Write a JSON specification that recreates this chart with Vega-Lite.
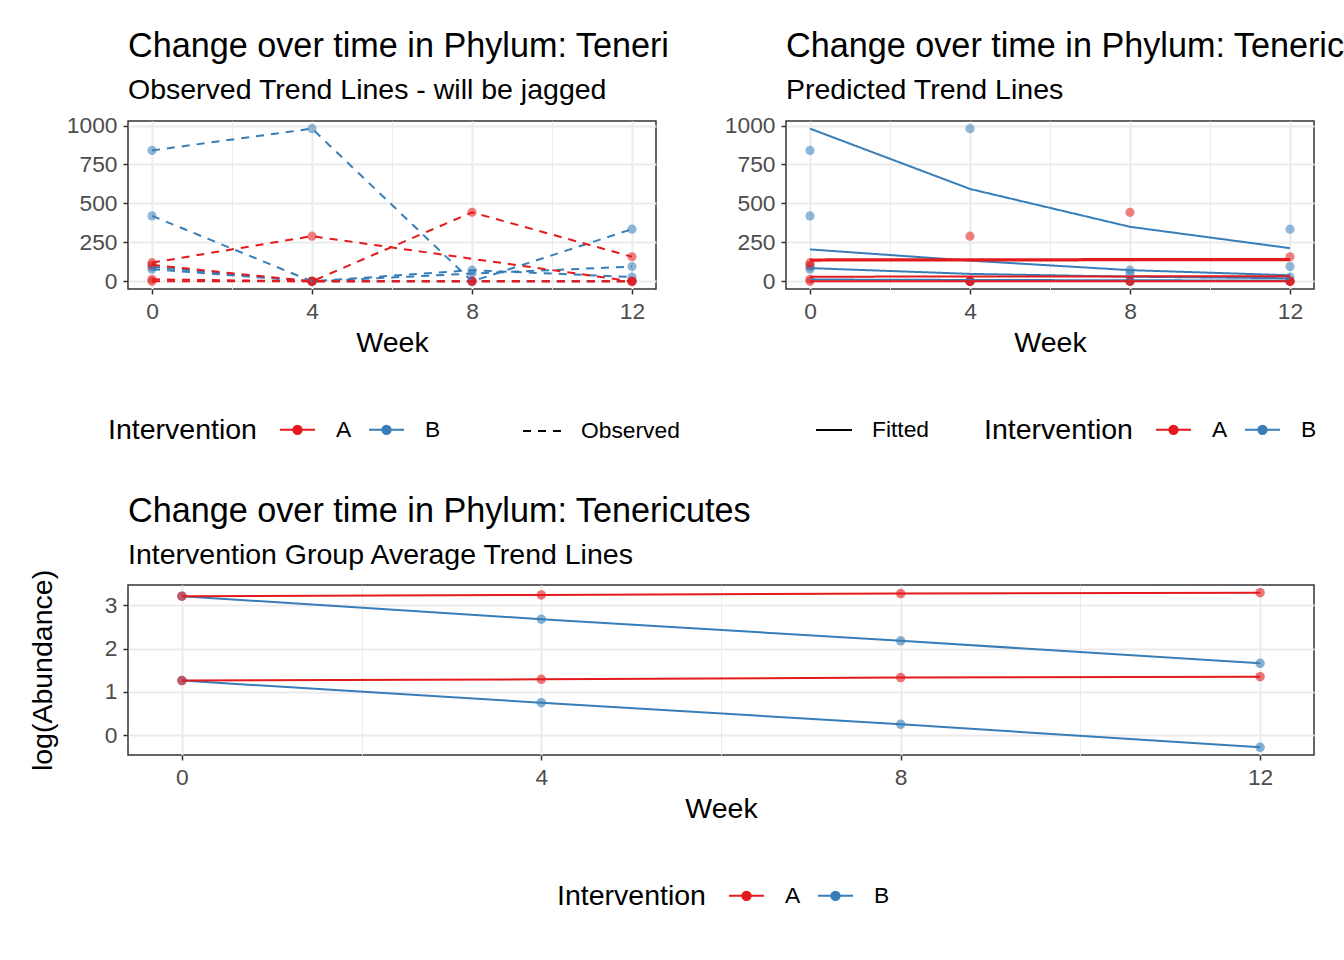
{
  "$schema": "https://vega.github.io/schema/vega-lite/v6.json",
  "padding": {"left": 27, "top": 29, "right": 0, "bottom": 0},
  "background": "white",
  "config": {
    "font": "Liberation Sans",
    "view": {"stroke": "#333333", "strokeWidth": 1.5},
    "axis": {
      "labelFontSize": 22.8, "labelColor": "#4d4d4d", "titleFontSize": 28.5, "titleColor": "black",
      "titleFontWeight": "normal", "tickColor": "#333333", "tickSize": 5, "tickWidth": 1.5,
      "domain": false, "gridColor": "#ebebeb", "labelPadding": 6, "titlePadding": 6
    },
    "title": {"fontSize": 34.2, "fontWeight": "normal", "subtitleFontSize": 28.5, "anchor": "start", "frame": "group", "color": "black", "subtitleColor": "black", "offset": 10, "subtitlePadding": 12},
    "legend": {"titleFontSize": 28.5, "labelFontSize": 22.8, "titleFontWeight": "normal", "titleColor": "black", "labelColor": "black"}
  },
  "datasets": {
    "obs": [
      {"Subject": "B1", "Intervention": "B", "Week": 0, "Abundance": 840},
      {"Subject": "B1", "Intervention": "B", "Week": 4, "Abundance": 980},
      {"Subject": "B1", "Intervention": "B", "Week": 8, "Abundance": 0},
      {"Subject": "B1", "Intervention": "B", "Week": 12, "Abundance": 335},
      {"Subject": "B2", "Intervention": "B", "Week": 0, "Abundance": 420},
      {"Subject": "B2", "Intervention": "B", "Week": 4, "Abundance": 0},
      {"Subject": "B2", "Intervention": "B", "Week": 8, "Abundance": 72},
      {"Subject": "B2", "Intervention": "B", "Week": 12, "Abundance": 28},
      {"Subject": "B3", "Intervention": "B", "Week": 0, "Abundance": 93},
      {"Subject": "B3", "Intervention": "B", "Week": 4, "Abundance": 0},
      {"Subject": "B3", "Intervention": "B", "Week": 8, "Abundance": 50},
      {"Subject": "B3", "Intervention": "B", "Week": 12, "Abundance": 95},
      {"Subject": "B4", "Intervention": "B", "Week": 0, "Abundance": 78},
      {"Subject": "B4", "Intervention": "B", "Week": 4, "Abundance": 0},
      {"Subject": "B4", "Intervention": "B", "Week": 8, "Abundance": 0},
      {"Subject": "B4", "Intervention": "B", "Week": 12, "Abundance": 0},
      {"Subject": "A1", "Intervention": "A", "Week": 0, "Abundance": 120},
      {"Subject": "A1", "Intervention": "A", "Week": 4, "Abundance": 290},
      {"Subject": "A1", "Intervention": "A", "Week": 12, "Abundance": 0},
      {"Subject": "A2", "Intervention": "A", "Week": 0, "Abundance": 105},
      {"Subject": "A2", "Intervention": "A", "Week": 4, "Abundance": 0},
      {"Subject": "A2", "Intervention": "A", "Week": 8, "Abundance": 443},
      {"Subject": "A2", "Intervention": "A", "Week": 12, "Abundance": 158},
      {"Subject": "A3", "Intervention": "A", "Week": 0, "Abundance": 13},
      {"Subject": "A3", "Intervention": "A", "Week": 4, "Abundance": 0},
      {"Subject": "A3", "Intervention": "A", "Week": 8, "Abundance": 0},
      {"Subject": "A3", "Intervention": "A", "Week": 12, "Abundance": 0},
      {"Subject": "A4", "Intervention": "A", "Week": 0, "Abundance": 0},
      {"Subject": "A4", "Intervention": "A", "Week": 4, "Abundance": 0},
      {"Subject": "A4", "Intervention": "A", "Week": 8, "Abundance": 0},
      {"Subject": "A4", "Intervention": "A", "Week": 12, "Abundance": 0}
    ],
    "fit": [
      {"Subject": "B1", "Intervention": "B", "Week": 0, "Fitted": 980},
      {"Subject": "B1", "Intervention": "B", "Week": 4, "Fitted": 593},
      {"Subject": "B1", "Intervention": "B", "Week": 8, "Fitted": 350},
      {"Subject": "B1", "Intervention": "B", "Week": 12, "Fitted": 213},
      {"Subject": "B2", "Intervention": "B", "Week": 0, "Fitted": 205},
      {"Subject": "B2", "Intervention": "B", "Week": 4, "Fitted": 133},
      {"Subject": "B2", "Intervention": "B", "Week": 8, "Fitted": 72},
      {"Subject": "B2", "Intervention": "B", "Week": 12, "Fitted": 39},
      {"Subject": "B3", "Intervention": "B", "Week": 0, "Fitted": 85},
      {"Subject": "B3", "Intervention": "B", "Week": 4, "Fitted": 48},
      {"Subject": "B3", "Intervention": "B", "Week": 8, "Fitted": 30},
      {"Subject": "B3", "Intervention": "B", "Week": 12, "Fitted": 20},
      {"Subject": "B4", "Intervention": "B", "Week": 0, "Fitted": 12},
      {"Subject": "B4", "Intervention": "B", "Week": 4, "Fitted": 9},
      {"Subject": "B4", "Intervention": "B", "Week": 8, "Fitted": 7},
      {"Subject": "B4", "Intervention": "B", "Week": 12, "Fitted": 5},
      {"Subject": "A1", "Intervention": "A", "Week": 0, "Fitted": 133},
      {"Subject": "A1", "Intervention": "A", "Week": 4, "Fitted": 134},
      {"Subject": "A1", "Intervention": "A", "Week": 8, "Fitted": 135},
      {"Subject": "A1", "Intervention": "A", "Week": 12, "Fitted": 136},
      {"Subject": "A2", "Intervention": "A", "Week": 0, "Fitted": 141},
      {"Subject": "A2", "Intervention": "A", "Week": 4, "Fitted": 142},
      {"Subject": "A2", "Intervention": "A", "Week": 8, "Fitted": 143},
      {"Subject": "A2", "Intervention": "A", "Week": 12, "Fitted": 144},
      {"Subject": "A3", "Intervention": "A", "Week": 0, "Fitted": 30},
      {"Subject": "A3", "Intervention": "A", "Week": 4, "Fitted": 31},
      {"Subject": "A3", "Intervention": "A", "Week": 8, "Fitted": 32},
      {"Subject": "A3", "Intervention": "A", "Week": 12, "Fitted": 33},
      {"Subject": "A4", "Intervention": "A", "Week": 0, "Fitted": 0},
      {"Subject": "A4", "Intervention": "A", "Week": 4, "Fitted": 0},
      {"Subject": "A4", "Intervention": "A", "Week": 8, "Fitted": 0},
      {"Subject": "A4", "Intervention": "A", "Week": 12, "Fitted": 0}
    ],
    "avg": [
      {"Group": "BU", "Intervention": "B", "Week": 0, "LogAbundance": 3.21},
      {"Group": "BU", "Intervention": "B", "Week": 4, "LogAbundance": 2.68},
      {"Group": "BU", "Intervention": "B", "Week": 8, "LogAbundance": 2.18},
      {"Group": "BU", "Intervention": "B", "Week": 12, "LogAbundance": 1.66},
      {"Group": "BL", "Intervention": "B", "Week": 0, "LogAbundance": 1.26},
      {"Group": "BL", "Intervention": "B", "Week": 4, "LogAbundance": 0.75},
      {"Group": "BL", "Intervention": "B", "Week": 8, "LogAbundance": 0.25},
      {"Group": "BL", "Intervention": "B", "Week": 12, "LogAbundance": -0.28},
      {"Group": "AU", "Intervention": "A", "Week": 0, "LogAbundance": 3.21},
      {"Group": "AU", "Intervention": "A", "Week": 4, "LogAbundance": 3.24},
      {"Group": "AU", "Intervention": "A", "Week": 8, "LogAbundance": 3.27},
      {"Group": "AU", "Intervention": "A", "Week": 12, "LogAbundance": 3.29},
      {"Group": "AL", "Intervention": "A", "Week": 0, "LogAbundance": 1.26},
      {"Group": "AL", "Intervention": "A", "Week": 4, "LogAbundance": 1.29},
      {"Group": "AL", "Intervention": "A", "Week": 8, "LogAbundance": 1.33},
      {"Group": "AL", "Intervention": "A", "Week": 12, "LogAbundance": 1.35}
    ]
  },
  "vconcat": [
    {
      "hconcat": [
        {
          "width": 528, "height": 168,
          "title": {"text": "Change over time in Phylum: Teneri", "subtitle": "Observed Trend Lines - will be jagged"},
          "data": {"name": "obs"},
          "layer": [
            {
              "mark": {"type": "point", "filled": true, "size": 85, "opacity": 0.55},
              "encoding": {
                "x": {"field": "Week", "type": "quantitative", "scale": {"domain": [-0.6, 12.6], "nice": false, "zero": false},
                  "axis": {"title": "Week", "format": "d", "values": [0, 2, 4, 6, 8, 10, 12], "labelExpr": "datum.value % 4 === 0 ? datum.label : ''",
                    "tickOpacity": {"condition": {"test": "datum.value % 4 === 0", "value": 1}, "value": 0},
                    "gridWidth": {"condition": {"test": "datum.value % 4 === 0", "value": 2}, "value": 1}}},
                "y": {"field": "Abundance", "type": "quantitative", "scale": {"domain": [-49, 1029], "nice": false, "zero": false},
                  "axis": {"title": null, "format": "d", "values": [0, 125, 250, 375, 500, 625, 750, 875, 1000], "labelExpr": "datum.value % 250 === 0 ? datum.label : ''",
                    "tickOpacity": {"condition": {"test": "datum.value % 250 === 0", "value": 1}, "value": 0},
                    "gridWidth": {"condition": {"test": "datum.value % 250 === 0", "value": 2}, "value": 1}}},
                "color": {"field": "Intervention", "type": "nominal", "scale": {"domain": ["A", "B"], "range": ["#E41A1C", "#377EB8"]},
                  "legend": {"orient": "none", "legendX": -20, "legendY": 290, "direction": "horizontal", "titleOrient": "left", "titleBaseline": "line-top", "titleLineHeight": 10, "title": "Intervention",
                    "symbolType": "M-1,0H1M-0.24,0A0.24,0.24,0,1,0,0.24,0A0.24,0.24,0,1,0,-0.24,0Z", "symbolSize": 1225, "symbolStrokeWidth": 2, "symbolOpacity": 1,
                    "labelOffset": 20, "columnPadding": 13, "titlePadding": 22}}
              }
            },
            {
              "mark": {"type": "line", "strokeWidth": 2},
              "encoding": {
                "x": {"field": "Week", "type": "quantitative"},
                "y": {"field": "Abundance", "type": "quantitative"},
                "detail": {"field": "Subject"},
                "color": {"field": "Intervention", "type": "nominal"},
                "strokeDash": {"datum": "Observed", "scale": {"range": [[8, 7]]},
                  "legend": {"orient": "none", "legendX": 394, "legendY": 290, "direction": "horizontal", "title": null, "symbolType": "stroke", "symbolSize": 1444, "symbolStrokeColor": "black", "symbolStrokeWidth": 2, "labelOffset": 19}}
              }
            }
          ]
        },
        {
          "width": 528, "height": 168,
          "title": {"text": "Change over time in Phylum: Teneric", "subtitle": "Predicted Trend Lines"},
          "layer": [
            {
              "data": {"name": "obs"},
              "mark": {"type": "point", "filled": true, "size": 85, "opacity": 0.55},
              "encoding": {
                "x": {"field": "Week", "type": "quantitative", "scale": {"domain": [-0.6, 12.6], "nice": false, "zero": false},
                  "axis": {"title": "Week", "format": "d", "values": [0, 2, 4, 6, 8, 10, 12], "labelExpr": "datum.value % 4 === 0 ? datum.label : ''",
                    "tickOpacity": {"condition": {"test": "datum.value % 4 === 0", "value": 1}, "value": 0},
                    "gridWidth": {"condition": {"test": "datum.value % 4 === 0", "value": 2}, "value": 1}}},
                "y": {"field": "Abundance", "type": "quantitative", "scale": {"domain": [-49, 1029], "nice": false, "zero": false},
                  "axis": {"title": null, "format": "d", "values": [0, 125, 250, 375, 500, 625, 750, 875, 1000], "labelExpr": "datum.value % 250 === 0 ? datum.label : ''",
                    "tickOpacity": {"condition": {"test": "datum.value % 250 === 0", "value": 1}, "value": 0},
                    "gridWidth": {"condition": {"test": "datum.value % 250 === 0", "value": 2}, "value": 1}}},
                "color": {"field": "Intervention", "type": "nominal", "scale": {"domain": ["A", "B"], "range": ["#E41A1C", "#377EB8"]},
                  "legend": {"orient": "none", "legendX": 198, "legendY": 290, "direction": "horizontal", "titleOrient": "left", "titleBaseline": "line-top", "titleLineHeight": 10, "title": "Intervention",
                    "symbolType": "M-1,0H1M-0.24,0A0.24,0.24,0,1,0,0.24,0A0.24,0.24,0,1,0,-0.24,0Z", "symbolSize": 1225, "symbolStrokeWidth": 2, "symbolOpacity": 1,
                    "labelOffset": 20, "columnPadding": 13, "titlePadding": 22}}
              }
            },
            {
              "data": {"name": "fit"},
              "mark": {"type": "line", "strokeWidth": 2},
              "encoding": {
                "x": {"field": "Week", "type": "quantitative"},
                "y": {"field": "Fitted", "type": "quantitative"},
                "detail": {"field": "Subject"},
                "color": {"field": "Intervention", "type": "nominal"},
                "strokeDash": {"datum": "Fitted", "scale": {"range": [[1, 0]]},
                  "legend": {"orient": "none", "legendX": 29, "legendY": 290, "direction": "horizontal", "title": null, "symbolType": "stroke", "symbolSize": 1296, "symbolStrokeColor": "black", "symbolStrokeWidth": 2, "labelOffset": 19}}
              }
            }
          ]
        }
      ],
      "spacing": 130,
      "bounds": "flush",
      "resolve": {"scale": {"color": "independent", "strokeDash": "independent"}, "legend": {"color": "independent", "strokeDash": "independent"}}
    },
    {
      "width": 1186, "height": 170,
      "title": {"text": "Change over time in Phylum: Tenericutes", "subtitle": "Intervention Group Average Trend Lines", "offset": 0},
      "data": {"name": "avg"},
      "layer": [
        {
          "mark": {"type": "point", "filled": true, "size": 90, "opacity": 0.6},
          "encoding": {
            "x": {"field": "Week", "type": "quantitative", "scale": {"domain": [-0.6, 12.6], "nice": false, "zero": false},
              "axis": {"title": "Week", "format": "d", "values": [0, 2, 4, 6, 8, 10, 12], "labelExpr": "datum.value % 4 === 0 ? datum.label : ''",
                "tickOpacity": {"condition": {"test": "datum.value % 4 === 0", "value": 1}, "value": 0},
                "gridWidth": {"condition": {"test": "datum.value % 4 === 0", "value": 2}, "value": 1}}},
            "y": {"field": "LogAbundance", "type": "quantitative", "scale": {"domain": [-0.4585, 3.4685], "nice": false, "zero": false},
              "axis": {"title": "log(Abundance)", "values": [0, 0.5, 1, 1.5, 2, 2.5, 3], "labelExpr": "datum.value % 1 === 0 ? datum.label : ''", "titlePadding": 47,
                "tickOpacity": {"condition": {"test": "datum.value % 1 === 0", "value": 1}, "value": 0},
                "gridWidth": {"condition": {"test": "datum.value % 1 === 0", "value": 2}, "value": 1}}},
            "color": {"field": "Intervention", "type": "nominal", "scale": {"domain": ["A", "B"], "range": ["#E41A1C", "#377EB8"]},
              "legend": {"orient": "none", "legendX": 429, "legendY": 292, "direction": "horizontal", "titleOrient": "left", "titleBaseline": "line-top", "titleLineHeight": 10, "title": "Intervention",
                "symbolType": "M-1,0H1M-0.24,0A0.24,0.24,0,1,0,0.24,0A0.24,0.24,0,1,0,-0.24,0Z", "symbolSize": 1225, "symbolStrokeWidth": 2, "symbolOpacity": 1,
                "labelOffset": 20, "columnPadding": 13, "titlePadding": 22}}
          }
        },
        {
          "mark": {"type": "line", "strokeWidth": 2},
          "encoding": {
            "x": {"field": "Week", "type": "quantitative"},
            "y": {"field": "LogAbundance", "type": "quantitative"},
            "detail": {"field": "Group"},
            "color": {"field": "Intervention", "type": "nominal"}
          }
        }
      ]
    }
  ],
  "spacing": 464,
  "bounds": "flush",
  "resolve": {"scale": {"color": "independent", "strokeDash": "independent"}, "legend": {"color": "independent", "strokeDash": "independent"}}
}
